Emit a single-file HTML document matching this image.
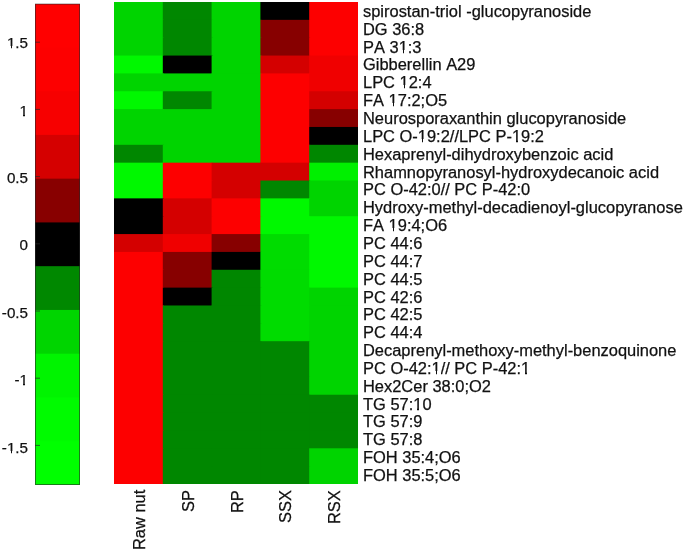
<!DOCTYPE html>
<html><head><meta charset="utf-8"><style>
html,body{margin:0;padding:0;background:#fff;}
body{width:685px;height:551px;position:relative;overflow:hidden;font-kerning:none;font-family:"Liberation Sans",sans-serif;color:#111;-webkit-font-smoothing:antialiased;-webkit-text-stroke:0.25px #111;}
svg{position:absolute;left:0;top:0;}
.l{position:absolute;white-space:nowrap;font-size:16.45px;line-height:1;will-change:transform;}
.t{position:absolute;white-space:nowrap;font-size:15.20px;line-height:1;text-align:right;width:40px;will-change:transform;}
.o{position:relative;}
.o::before,.o::after{content:"";position:absolute;background:#fff;bottom:0.14em;height:0.2em;}
.o::before{left:0.02em;width:0.2315em;}
.o::after{left:0.3399em;width:0.21em;}
.x{position:absolute;width:0;height:0;transform-origin:0 0;transform:rotate(-90deg);}
.x span{position:absolute;right:0;white-space:nowrap;font-size:16.45px;line-height:1;will-change:transform;}
</style></head><body>

<svg width="685" height="551" viewBox="0 0 685 551"><rect x="114.00" y="2.00" width="49.80" height="18.85" fill="#00d400"/><rect x="162.80" y="2.00" width="49.80" height="18.85" fill="#008700"/><rect x="211.60" y="2.00" width="49.80" height="18.85" fill="#00d400"/><rect x="260.40" y="2.00" width="49.80" height="18.85" fill="#000000"/><rect x="309.20" y="2.00" width="48.80" height="18.85" fill="#fd0000"/><rect x="114.00" y="19.85" width="49.80" height="18.85" fill="#00d400"/><rect x="162.80" y="19.85" width="49.80" height="18.85" fill="#008700"/><rect x="211.60" y="19.85" width="49.80" height="18.85" fill="#00d400"/><rect x="260.40" y="19.85" width="49.80" height="18.85" fill="#870000"/><rect x="309.20" y="19.85" width="48.80" height="18.85" fill="#fd0000"/><rect x="114.00" y="37.70" width="49.80" height="18.85" fill="#00d400"/><rect x="162.80" y="37.70" width="49.80" height="18.85" fill="#008700"/><rect x="211.60" y="37.70" width="49.80" height="18.85" fill="#00d400"/><rect x="260.40" y="37.70" width="49.80" height="18.85" fill="#870000"/><rect x="309.20" y="37.70" width="48.80" height="18.85" fill="#fd0000"/><rect x="114.00" y="55.56" width="49.80" height="18.85" fill="#00f800"/><rect x="162.80" y="55.56" width="49.80" height="18.85" fill="#000000"/><rect x="211.60" y="55.56" width="49.80" height="18.85" fill="#00d400"/><rect x="260.40" y="55.56" width="49.80" height="18.85" fill="#d40000"/><rect x="309.20" y="55.56" width="48.80" height="18.85" fill="#f00000"/><rect x="114.00" y="73.41" width="49.80" height="18.85" fill="#00d400"/><rect x="162.80" y="73.41" width="49.80" height="18.85" fill="#00d400"/><rect x="211.60" y="73.41" width="49.80" height="18.85" fill="#00d400"/><rect x="260.40" y="73.41" width="49.80" height="18.85" fill="#fd0000"/><rect x="309.20" y="73.41" width="48.80" height="18.85" fill="#f00000"/><rect x="114.00" y="91.26" width="49.80" height="18.85" fill="#00f800"/><rect x="162.80" y="91.26" width="49.80" height="18.85" fill="#008700"/><rect x="211.60" y="91.26" width="49.80" height="18.85" fill="#00d400"/><rect x="260.40" y="91.26" width="49.80" height="18.85" fill="#fd0000"/><rect x="309.20" y="91.26" width="48.80" height="18.85" fill="#d40000"/><rect x="114.00" y="109.11" width="49.80" height="18.85" fill="#00d400"/><rect x="162.80" y="109.11" width="49.80" height="18.85" fill="#00d400"/><rect x="211.60" y="109.11" width="49.80" height="18.85" fill="#00d400"/><rect x="260.40" y="109.11" width="49.80" height="18.85" fill="#fd0000"/><rect x="309.20" y="109.11" width="48.80" height="18.85" fill="#870000"/><rect x="114.00" y="126.96" width="49.80" height="18.85" fill="#00d400"/><rect x="162.80" y="126.96" width="49.80" height="18.85" fill="#00d400"/><rect x="211.60" y="126.96" width="49.80" height="18.85" fill="#00d400"/><rect x="260.40" y="126.96" width="49.80" height="18.85" fill="#fd0000"/><rect x="309.20" y="126.96" width="48.80" height="18.85" fill="#000000"/><rect x="114.00" y="144.81" width="49.80" height="18.85" fill="#008700"/><rect x="162.80" y="144.81" width="49.80" height="18.85" fill="#00d400"/><rect x="211.60" y="144.81" width="49.80" height="18.85" fill="#00d400"/><rect x="260.40" y="144.81" width="49.80" height="18.85" fill="#fd0000"/><rect x="309.20" y="144.81" width="48.80" height="18.85" fill="#008700"/><rect x="114.00" y="162.67" width="49.80" height="18.85" fill="#00f800"/><rect x="162.80" y="162.67" width="49.80" height="18.85" fill="#fd0000"/><rect x="211.60" y="162.67" width="49.80" height="18.85" fill="#d40000"/><rect x="260.40" y="162.67" width="49.80" height="18.85" fill="#d40000"/><rect x="309.20" y="162.67" width="48.80" height="18.85" fill="#00f000"/><rect x="114.00" y="180.52" width="49.80" height="18.85" fill="#00f800"/><rect x="162.80" y="180.52" width="49.80" height="18.85" fill="#fd0000"/><rect x="211.60" y="180.52" width="49.80" height="18.85" fill="#d40000"/><rect x="260.40" y="180.52" width="49.80" height="18.85" fill="#008700"/><rect x="309.20" y="180.52" width="48.80" height="18.85" fill="#00d400"/><rect x="114.00" y="198.37" width="49.80" height="18.85" fill="#000000"/><rect x="162.80" y="198.37" width="49.80" height="18.85" fill="#d40000"/><rect x="211.60" y="198.37" width="49.80" height="18.85" fill="#fd0000"/><rect x="260.40" y="198.37" width="49.80" height="18.85" fill="#00f800"/><rect x="309.20" y="198.37" width="48.80" height="18.85" fill="#00d400"/><rect x="114.00" y="216.22" width="49.80" height="18.85" fill="#000000"/><rect x="162.80" y="216.22" width="49.80" height="18.85" fill="#d40000"/><rect x="211.60" y="216.22" width="49.80" height="18.85" fill="#fd0000"/><rect x="260.40" y="216.22" width="49.80" height="18.85" fill="#00f800"/><rect x="309.20" y="216.22" width="48.80" height="18.85" fill="#00f800"/><rect x="114.00" y="234.07" width="49.80" height="18.85" fill="#d40000"/><rect x="162.80" y="234.07" width="49.80" height="18.85" fill="#f00000"/><rect x="211.60" y="234.07" width="49.80" height="18.85" fill="#870000"/><rect x="260.40" y="234.07" width="49.80" height="18.85" fill="#00dc00"/><rect x="309.20" y="234.07" width="48.80" height="18.85" fill="#00f800"/><rect x="114.00" y="251.93" width="49.80" height="18.85" fill="#fd0000"/><rect x="162.80" y="251.93" width="49.80" height="18.85" fill="#870000"/><rect x="211.60" y="251.93" width="49.80" height="18.85" fill="#000000"/><rect x="260.40" y="251.93" width="49.80" height="18.85" fill="#00dc00"/><rect x="309.20" y="251.93" width="48.80" height="18.85" fill="#00f800"/><rect x="114.00" y="269.78" width="49.80" height="18.85" fill="#fd0000"/><rect x="162.80" y="269.78" width="49.80" height="18.85" fill="#870000"/><rect x="211.60" y="269.78" width="49.80" height="18.85" fill="#008700"/><rect x="260.40" y="269.78" width="49.80" height="18.85" fill="#00dc00"/><rect x="309.20" y="269.78" width="48.80" height="18.85" fill="#00f800"/><rect x="114.00" y="287.63" width="49.80" height="18.85" fill="#fd0000"/><rect x="162.80" y="287.63" width="49.80" height="18.85" fill="#000000"/><rect x="211.60" y="287.63" width="49.80" height="18.85" fill="#008700"/><rect x="260.40" y="287.63" width="49.80" height="18.85" fill="#00dc00"/><rect x="309.20" y="287.63" width="48.80" height="18.85" fill="#00d400"/><rect x="114.00" y="305.48" width="49.80" height="18.85" fill="#fd0000"/><rect x="162.80" y="305.48" width="49.80" height="18.85" fill="#008700"/><rect x="211.60" y="305.48" width="49.80" height="18.85" fill="#008700"/><rect x="260.40" y="305.48" width="49.80" height="18.85" fill="#00dc00"/><rect x="309.20" y="305.48" width="48.80" height="18.85" fill="#00d400"/><rect x="114.00" y="323.33" width="49.80" height="18.85" fill="#fd0000"/><rect x="162.80" y="323.33" width="49.80" height="18.85" fill="#008700"/><rect x="211.60" y="323.33" width="49.80" height="18.85" fill="#008700"/><rect x="260.40" y="323.33" width="49.80" height="18.85" fill="#00dc00"/><rect x="309.20" y="323.33" width="48.80" height="18.85" fill="#00d400"/><rect x="114.00" y="341.19" width="49.80" height="18.85" fill="#fd0000"/><rect x="162.80" y="341.19" width="49.80" height="18.85" fill="#008700"/><rect x="211.60" y="341.19" width="49.80" height="18.85" fill="#008700"/><rect x="260.40" y="341.19" width="49.80" height="18.85" fill="#008700"/><rect x="309.20" y="341.19" width="48.80" height="18.85" fill="#00d400"/><rect x="114.00" y="359.04" width="49.80" height="18.85" fill="#fd0000"/><rect x="162.80" y="359.04" width="49.80" height="18.85" fill="#008700"/><rect x="211.60" y="359.04" width="49.80" height="18.85" fill="#008700"/><rect x="260.40" y="359.04" width="49.80" height="18.85" fill="#008700"/><rect x="309.20" y="359.04" width="48.80" height="18.85" fill="#00d400"/><rect x="114.00" y="376.89" width="49.80" height="18.85" fill="#fd0000"/><rect x="162.80" y="376.89" width="49.80" height="18.85" fill="#008700"/><rect x="211.60" y="376.89" width="49.80" height="18.85" fill="#008700"/><rect x="260.40" y="376.89" width="49.80" height="18.85" fill="#008700"/><rect x="309.20" y="376.89" width="48.80" height="18.85" fill="#00d400"/><rect x="114.00" y="394.74" width="49.80" height="18.85" fill="#fd0000"/><rect x="162.80" y="394.74" width="49.80" height="18.85" fill="#008700"/><rect x="211.60" y="394.74" width="49.80" height="18.85" fill="#008700"/><rect x="260.40" y="394.74" width="49.80" height="18.85" fill="#008700"/><rect x="309.20" y="394.74" width="48.80" height="18.85" fill="#008700"/><rect x="114.00" y="412.59" width="49.80" height="18.85" fill="#fd0000"/><rect x="162.80" y="412.59" width="49.80" height="18.85" fill="#008700"/><rect x="211.60" y="412.59" width="49.80" height="18.85" fill="#008700"/><rect x="260.40" y="412.59" width="49.80" height="18.85" fill="#008700"/><rect x="309.20" y="412.59" width="48.80" height="18.85" fill="#008700"/><rect x="114.00" y="430.44" width="49.80" height="18.85" fill="#fd0000"/><rect x="162.80" y="430.44" width="49.80" height="18.85" fill="#008700"/><rect x="211.60" y="430.44" width="49.80" height="18.85" fill="#008700"/><rect x="260.40" y="430.44" width="49.80" height="18.85" fill="#008700"/><rect x="309.20" y="430.44" width="48.80" height="18.85" fill="#008700"/><rect x="114.00" y="448.30" width="49.80" height="18.85" fill="#fd0000"/><rect x="162.80" y="448.30" width="49.80" height="18.85" fill="#008700"/><rect x="211.60" y="448.30" width="49.80" height="18.85" fill="#008700"/><rect x="260.40" y="448.30" width="49.80" height="18.85" fill="#008700"/><rect x="309.20" y="448.30" width="48.80" height="18.85" fill="#00d400"/><rect x="114.00" y="466.15" width="49.80" height="17.85" fill="#fd0000"/><rect x="162.80" y="466.15" width="49.80" height="17.85" fill="#008700"/><rect x="211.60" y="466.15" width="49.80" height="17.85" fill="#008700"/><rect x="260.40" y="466.15" width="49.80" height="17.85" fill="#008700"/><rect x="309.20" y="466.15" width="48.80" height="17.85" fill="#00d400"/><rect x="35" y="4.00" width="45" height="44.36" fill="#ff0000"/><rect x="35" y="47.36" width="45" height="44.76" fill="#fd0000"/><rect x="35" y="91.13" width="45" height="44.76" fill="#f70000"/><rect x="35" y="134.89" width="45" height="44.76" fill="#d50000"/><rect x="35" y="178.65" width="45" height="44.76" fill="#880000"/><rect x="35" y="222.42" width="45" height="44.76" fill="#000000"/><rect x="35" y="266.18" width="45" height="44.76" fill="#008800"/><rect x="35" y="309.95" width="45" height="44.76" fill="#00d500"/><rect x="35" y="353.71" width="45" height="44.76" fill="#00f400"/><rect x="35" y="397.47" width="45" height="44.76" fill="#00fb00"/><rect x="35" y="441.24" width="45" height="43.76" fill="#00ff00"/><line x1="35" y1="42.20" x2="40" y2="42.20" stroke="#262626" stroke-width="1" stroke-opacity="0.7"/><line x1="35" y1="109.40" x2="40" y2="109.40" stroke="#262626" stroke-width="1" stroke-opacity="0.7"/><line x1="35" y1="176.60" x2="40" y2="176.60" stroke="#262626" stroke-width="1" stroke-opacity="0.7"/><line x1="35" y1="243.80" x2="40" y2="243.80" stroke="#262626" stroke-width="1" stroke-opacity="0.7"/><line x1="35" y1="311.00" x2="40" y2="311.00" stroke="#262626" stroke-width="1" stroke-opacity="0.7"/><line x1="35" y1="378.20" x2="40" y2="378.20" stroke="#262626" stroke-width="1" stroke-opacity="0.7"/><line x1="35" y1="445.40" x2="40" y2="445.40" stroke="#262626" stroke-width="1" stroke-opacity="0.7"/><rect x="35.5" y="4.1" width="44" height="480.40" fill="none" stroke="#262626" stroke-width="1" stroke-opacity="0.6"/></svg>
<div class="l" style="left:363.0px;top:2.90px">spirostan-triol -glucopyranoside</div>
<div class="l" style="left:363.0px;top:20.75px">DG 36:8</div>
<div class="l" style="left:363.0px;top:38.60px">PA 3<span class=o>1</span>:3</div>
<div class="l" style="left:363.0px;top:56.46px">Gibberellin A29</div>
<div class="l" style="left:363.0px;top:74.31px">LPC <span class=o>1</span>2:4</div>
<div class="l" style="left:363.0px;top:92.16px">FA <span class=o>1</span>7:2;O5</div>
<div class="l" style="left:363.0px;top:110.01px">Neurosporaxanthin glucopyranoside</div>
<div class="l" style="left:363.0px;top:127.86px">LPC O-<span class=o>1</span>9:2//LPC P-<span class=o>1</span>9:2</div>
<div class="l" style="left:363.0px;top:145.72px">Hexaprenyl-dihydroxybenzoic acid</div>
<div class="l" style="left:363.0px;top:163.57px">Rhamnopyranosyl-hydroxydecanoic acid</div>
<div class="l" style="left:363.0px;top:181.42px">PC O-42:0// PC P-42:0</div>
<div class="l" style="left:363.0px;top:199.27px">Hydroxy-methyl-decadienoyl-glucopyranose</div>
<div class="l" style="left:363.0px;top:217.12px">FA <span class=o>1</span>9:4;O6</div>
<div class="l" style="left:363.0px;top:234.98px">PC 44:6</div>
<div class="l" style="left:363.0px;top:252.83px">PC 44:7</div>
<div class="l" style="left:363.0px;top:270.68px">PC 44:5</div>
<div class="l" style="left:363.0px;top:288.53px">PC 42:6</div>
<div class="l" style="left:363.0px;top:306.38px">PC 42:5</div>
<div class="l" style="left:363.0px;top:324.23px">PC 44:4</div>
<div class="l" style="left:363.0px;top:342.09px">Decaprenyl-methoxy-methyl-benzoquinone</div>
<div class="l" style="left:363.0px;top:359.94px">PC O-42:<span class=o>1</span>// PC P-42:<span class=o>1</span></div>
<div class="l" style="left:363.0px;top:377.79px">Hex2Cer 38:0;O2</div>
<div class="l" style="left:363.0px;top:395.64px">TG 57:<span class=o>1</span>0</div>
<div class="l" style="left:363.0px;top:413.49px">TG 57:9</div>
<div class="l" style="left:363.0px;top:431.35px">TG 57:8</div>
<div class="l" style="left:363.0px;top:449.20px">FOH 35:4;O6</div>
<div class="l" style="left:363.0px;top:467.05px">FOH 35:5;O6</div>
<div class="t" style="left:-12.5px;top:35.16px"><span class=o>1</span>.5</div>
<div class="t" style="left:-12.5px;top:102.58px"><span class=o>1</span></div>
<div class="t" style="left:-12.5px;top:170.00px">0.5</div>
<div class="t" style="left:-12.5px;top:237.42px">0</div>
<div class="t" style="left:-12.5px;top:304.84px">-0.5</div>
<div class="t" style="left:-12.5px;top:372.26px">-<span class=o>1</span></div>
<div class="t" style="left:-12.5px;top:439.68px">-<span class=o>1</span>.5</div>
<div class="x" style="left:139.00px;top:489.5px"><span style="top:-8.04px">Raw nut</span></div>
<div class="x" style="left:187.80px;top:489.5px"><span style="top:-8.04px">SP</span></div>
<div class="x" style="left:236.60px;top:489.5px"><span style="top:-8.04px">RP</span></div>
<div class="x" style="left:285.40px;top:489.5px"><span style="top:-8.04px">SSX</span></div>
<div class="x" style="left:334.20px;top:489.5px"><span style="top:-8.04px">RSX</span></div>
</body></html>
